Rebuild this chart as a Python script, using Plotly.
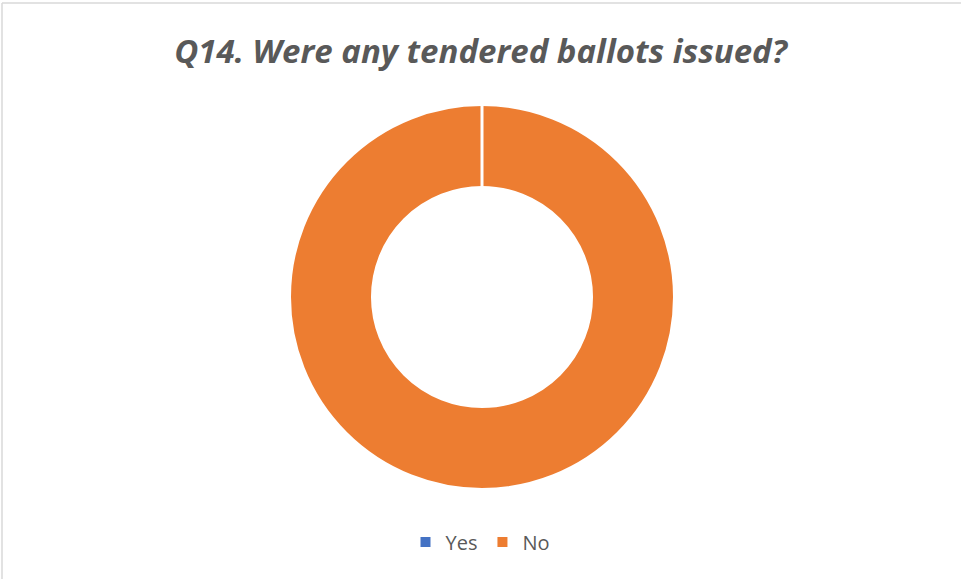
import plotly.graph_objects as go

# Survey responses
answers = ["Yes", "No"]
counts = [0, 100]
colors = ["#4472C4", "#ED7D31"]

W, H = 961, 579
HOLE = 0.573

# Donut placement (paper fractions)
dom_x = [290 / W, 674 / W]
dom_y = [(H - 489) / H, (H - 105) / H]

fig = go.Figure()
fig.add_trace(go.Pie(
    labels=answers,
    values=counts,
    hole=HOLE,
    sort=False,
    direction="clockwise",
    rotation=0,
    marker=dict(colors=colors, line=dict(color="white", width=2)),
    textinfo="none",
    hoverinfo="label+value+percent",
    showlegend=True,
    domain=dict(x=dom_x, y=dom_y),
))

# Slice boundary at 12 o'clock where the empty "Yes" slice starts/ends
cx = (dom_x[0] + dom_x[1]) / 2
cy = (dom_y[0] + dom_y[1]) / 2
r_y = (dom_y[1] - dom_y[0]) / 2
boundary = dict(type="line", xref="paper", yref="paper",
                x0=cx, x1=cx, y0=cy + r_y * HOLE - 0.003, y1=dom_y[1] + 0.003,
                line=dict(color="white", width=3))

fig.update_layout(
    width=W,
    height=H,
    margin=dict(l=0, r=0, t=0, b=0),
    paper_bgcolor="white",
    plot_bgcolor="white",
    title=dict(
        text="<b><i>Q14. Were any tendered ballots issued?</i></b>",
        x=0.5, xanchor="center",
        y=1 - 51 / H, yanchor="middle",
        font=dict(family="Open Sans", size=33, color="#595959"),
    ),
    legend=dict(
        orientation="h",
        x=0.5, xanchor="center",
        y=1 - 542 / H, yanchor="middle",
        font=dict(family="Open Sans", size=20, color="#595959"),
        itemsizing="constant",
        itemwidth=30,
    ),
    shapes=[
        boundary,
        dict(type="line", xref="paper", yref="paper",
             x0=2 / W, x1=1.02, y0=1 - 3 / H, y1=1 - 3 / H,
             line=dict(color="#D9D9D9", width=1.5)),
        dict(type="line", xref="paper", yref="paper",
             x0=2 / W, x1=2 / W, y0=1 - 3 / H, y1=-0.02,
             line=dict(color="#D9D9D9", width=1.5)),
    ],
)

fig.write_html("out.html")
